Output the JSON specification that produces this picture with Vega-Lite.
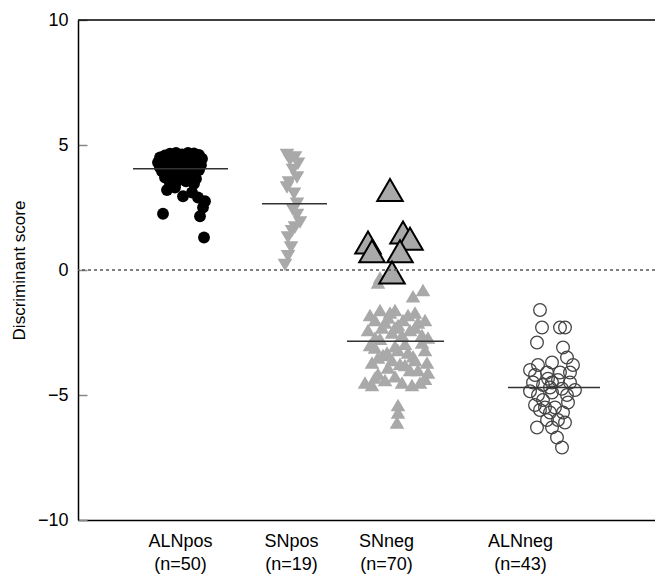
{
  "$schema": "https://vega.github.io/schema/vega-lite/v6.json",
  "width": 577,
  "height": 500,
  "autosize": {"type": "none"},
  "padding": {"left": 78, "top": 20, "right": 0, "bottom": 61},
  "config": {"view": {"stroke": null}, "font": "Liberation Sans"},
  "datasets": {
    "points": [
      {"group": "ALNpos", "x": 8.5, "score": 2.25, "kind": "plain"},
      {"group": "ALNpos", "x": 12.2, "score": 2.15, "kind": "plain"},
      {"group": "ALNpos", "x": 12.6, "score": 1.3, "kind": "plain"},
      {"group": "ALNpos", "x": 12.5, "score": 2.5, "kind": "plain"},
      {"group": "ALNpos", "x": 8.9, "score": 3.2, "kind": "plain"},
      {"group": "ALNpos", "x": 10.5, "score": 2.95, "kind": "plain"},
      {"group": "ALNpos", "x": 12.0, "score": 2.9, "kind": "plain"},
      {"group": "ALNpos", "x": 9.7, "score": 3.3, "kind": "plain"},
      {"group": "ALNpos", "x": 11.4, "score": 3.1, "kind": "plain"},
      {"group": "ALNpos", "x": 12.7, "score": 2.75, "kind": "plain"},
      {"group": "ALNpos", "x": 8.2, "score": 4.5, "kind": "plain"},
      {"group": "ALNpos", "x": 8.7, "score": 4.58, "kind": "plain"},
      {"group": "ALNpos", "x": 9.2, "score": 4.65, "kind": "plain"},
      {"group": "ALNpos", "x": 9.8, "score": 4.68, "kind": "plain"},
      {"group": "ALNpos", "x": 10.4, "score": 4.62, "kind": "plain"},
      {"group": "ALNpos", "x": 11.0, "score": 4.68, "kind": "plain"},
      {"group": "ALNpos", "x": 11.6, "score": 4.66, "kind": "plain"},
      {"group": "ALNpos", "x": 12.1, "score": 4.6, "kind": "plain"},
      {"group": "ALNpos", "x": 12.4, "score": 4.45, "kind": "plain"},
      {"group": "ALNpos", "x": 8.0, "score": 4.3, "kind": "plain"},
      {"group": "ALNpos", "x": 8.6, "score": 4.35, "kind": "plain"},
      {"group": "ALNpos", "x": 9.3, "score": 4.45, "kind": "plain"},
      {"group": "ALNpos", "x": 10.0, "score": 4.5, "kind": "plain"},
      {"group": "ALNpos", "x": 10.7, "score": 4.4, "kind": "plain"},
      {"group": "ALNpos", "x": 11.3, "score": 4.55, "kind": "plain"},
      {"group": "ALNpos", "x": 11.9, "score": 4.35, "kind": "plain"},
      {"group": "ALNpos", "x": 12.3, "score": 4.2, "kind": "plain"},
      {"group": "ALNpos", "x": 8.2, "score": 4.1, "kind": "plain"},
      {"group": "ALNpos", "x": 9.0, "score": 4.15, "kind": "plain"},
      {"group": "ALNpos", "x": 9.7, "score": 4.25, "kind": "plain"},
      {"group": "ALNpos", "x": 10.4, "score": 4.2, "kind": "plain"},
      {"group": "ALNpos", "x": 11.1, "score": 4.15, "kind": "plain"},
      {"group": "ALNpos", "x": 11.7, "score": 4.1, "kind": "plain"},
      {"group": "ALNpos", "x": 9.5, "score": 4.6, "kind": "plain"},
      {"group": "ALNpos", "x": 10.8, "score": 4.6, "kind": "plain"},
      {"group": "ALNpos", "x": 8.4, "score": 3.95, "kind": "plain"},
      {"group": "ALNpos", "x": 9.1, "score": 3.85, "kind": "plain"},
      {"group": "ALNpos", "x": 9.9, "score": 3.9, "kind": "plain"},
      {"group": "ALNpos", "x": 10.6, "score": 3.95, "kind": "plain"},
      {"group": "ALNpos", "x": 11.4, "score": 3.9, "kind": "plain"},
      {"group": "ALNpos", "x": 12.1, "score": 4.0, "kind": "plain"},
      {"group": "ALNpos", "x": 8.7, "score": 3.7, "kind": "plain"},
      {"group": "ALNpos", "x": 9.4, "score": 3.6, "kind": "plain"},
      {"group": "ALNpos", "x": 10.2, "score": 3.75, "kind": "plain"},
      {"group": "ALNpos", "x": 11.0, "score": 3.7, "kind": "plain"},
      {"group": "ALNpos", "x": 11.8, "score": 3.65, "kind": "plain"},
      {"group": "ALNpos", "x": 9.8, "score": 3.5, "kind": "plain"},
      {"group": "ALNpos", "x": 9.2, "score": 3.45, "kind": "plain"},
      {"group": "ALNpos", "x": 10.8, "score": 3.55, "kind": "plain"},
      {"group": "ALNpos", "x": 11.6, "score": 3.45, "kind": "plain"},

      {"group": "SNpos", "x": 20.9, "score": 4.6, "kind": "plain"},
      {"group": "SNpos", "x": 21.7, "score": 4.5, "kind": "plain"},
      {"group": "SNpos", "x": 21.2, "score": 4.4, "kind": "plain"},
      {"group": "SNpos", "x": 22.0, "score": 4.25, "kind": "plain"},
      {"group": "SNpos", "x": 21.5, "score": 4.0, "kind": "plain"},
      {"group": "SNpos", "x": 21.9, "score": 3.7, "kind": "plain"},
      {"group": "SNpos", "x": 21.1, "score": 3.5, "kind": "plain"},
      {"group": "SNpos", "x": 20.9, "score": 3.3, "kind": "plain"},
      {"group": "SNpos", "x": 21.6, "score": 3.05, "kind": "plain"},
      {"group": "SNpos", "x": 21.9, "score": 2.65, "kind": "plain"},
      {"group": "SNpos", "x": 21.5, "score": 2.4, "kind": "plain"},
      {"group": "SNpos", "x": 21.9, "score": 2.2, "kind": "plain"},
      {"group": "SNpos", "x": 22.2, "score": 1.9, "kind": "plain"},
      {"group": "SNpos", "x": 21.7, "score": 1.7, "kind": "plain"},
      {"group": "SNpos", "x": 21.4, "score": 1.55, "kind": "plain"},
      {"group": "SNpos", "x": 21.0, "score": 1.3, "kind": "plain"},
      {"group": "SNpos", "x": 21.3, "score": 0.9, "kind": "plain"},
      {"group": "SNpos", "x": 21.0, "score": 0.55, "kind": "plain"},
      {"group": "SNpos", "x": 20.7, "score": 0.2, "kind": "plain"},

      {"group": "SNneg", "x": 31.2, "score": 3.2, "kind": "outlined"},
      {"group": "SNneg", "x": 32.5, "score": 1.5, "kind": "outlined"},
      {"group": "SNneg", "x": 33.2, "score": 1.25, "kind": "outlined"},
      {"group": "SNneg", "x": 29.0, "score": 1.1, "kind": "outlined"},
      {"group": "SNneg", "x": 29.4, "score": 0.75, "kind": "outlined"},
      {"group": "SNneg", "x": 32.2, "score": 0.75, "kind": "outlined"},
      {"group": "SNneg", "x": 31.4, "score": -0.1, "kind": "outlined"},
      {"group": "SNneg", "x": 30.2, "score": -0.3, "kind": "plain"},
      {"group": "SNneg", "x": 30.0, "score": -0.5, "kind": "plain"},
      {"group": "SNneg", "x": 34.5, "score": -0.8, "kind": "plain"},
      {"group": "SNneg", "x": 33.5, "score": -1.05, "kind": "plain"},
      {"group": "SNneg", "x": 30.2, "score": -1.6, "kind": "plain"},
      {"group": "SNneg", "x": 31.7, "score": -1.6, "kind": "plain"},
      {"group": "SNneg", "x": 33.7, "score": -1.7, "kind": "plain"},
      {"group": "SNneg", "x": 29.7, "score": -2.0, "kind": "plain"},
      {"group": "SNneg", "x": 31.0, "score": -1.9, "kind": "plain"},
      {"group": "SNneg", "x": 32.5, "score": -2.0, "kind": "plain"},
      {"group": "SNneg", "x": 34.0, "score": -2.1, "kind": "plain"},
      {"group": "SNneg", "x": 30.4, "score": -2.3, "kind": "plain"},
      {"group": "SNneg", "x": 31.7, "score": -2.3, "kind": "plain"},
      {"group": "SNneg", "x": 33.2, "score": -2.4, "kind": "plain"},
      {"group": "SNneg", "x": 34.4, "score": -2.6, "kind": "plain"},
      {"group": "SNneg", "x": 32.4, "score": -2.6, "kind": "plain"},
      {"group": "SNneg", "x": 29.7, "score": -2.7, "kind": "plain"},
      {"group": "SNneg", "x": 31.2, "score": -1.7, "kind": "plain"},
      {"group": "SNneg", "x": 29.2, "score": -1.8, "kind": "plain"},
      {"group": "SNneg", "x": 33.0, "score": -1.8, "kind": "plain"},
      {"group": "SNneg", "x": 34.7, "score": -2.0, "kind": "plain"},
      {"group": "SNneg", "x": 30.7, "score": -2.1, "kind": "plain"},
      {"group": "SNneg", "x": 32.0, "score": -2.2, "kind": "plain"},
      {"group": "SNneg", "x": 33.7, "score": -2.3, "kind": "plain"},
      {"group": "SNneg", "x": 29.0, "score": -2.4, "kind": "plain"},
      {"group": "SNneg", "x": 31.4, "score": -2.5, "kind": "plain"},
      {"group": "SNneg", "x": 35.0, "score": -2.7, "kind": "plain"},
      {"group": "SNneg", "x": 30.2, "score": -2.75, "kind": "plain"},
      {"group": "SNneg", "x": 34.4, "score": -2.9, "kind": "plain"},
      {"group": "SNneg", "x": 29.7, "score": -3.1, "kind": "plain"},
      {"group": "SNneg", "x": 30.9, "score": -3.3, "kind": "plain"},
      {"group": "SNneg", "x": 32.0, "score": -3.2, "kind": "plain"},
      {"group": "SNneg", "x": 33.0, "score": -3.3, "kind": "plain"},
      {"group": "SNneg", "x": 33.7, "score": -3.6, "kind": "plain"},
      {"group": "SNneg", "x": 34.9, "score": -3.7, "kind": "plain"},
      {"group": "SNneg", "x": 30.0, "score": -3.5, "kind": "plain"},
      {"group": "SNneg", "x": 31.4, "score": -3.6, "kind": "plain"},
      {"group": "SNneg", "x": 32.7, "score": -3.8, "kind": "plain"},
      {"group": "SNneg", "x": 34.0, "score": -4.0, "kind": "plain"},
      {"group": "SNneg", "x": 35.0, "score": -4.1, "kind": "plain"},
      {"group": "SNneg", "x": 29.7, "score": -4.3, "kind": "plain"},
      {"group": "SNneg", "x": 30.7, "score": -4.4, "kind": "plain"},
      {"group": "SNneg", "x": 32.4, "score": -4.5, "kind": "plain"},
      {"group": "SNneg", "x": 34.2, "score": -4.5, "kind": "plain"},
      {"group": "SNneg", "x": 29.4, "score": -4.6, "kind": "plain"},
      {"group": "SNneg", "x": 32.0, "score": -5.4, "kind": "plain"},
      {"group": "SNneg", "x": 32.0, "score": -5.7, "kind": "plain"},
      {"group": "SNneg", "x": 31.9, "score": -6.1, "kind": "plain"},
      {"group": "SNneg", "x": 32.7, "score": -2.95, "kind": "plain"},
      {"group": "SNneg", "x": 29.2, "score": -3.0, "kind": "plain"},
      {"group": "SNneg", "x": 31.7, "score": -3.05, "kind": "plain"},
      {"group": "SNneg", "x": 34.7, "score": -3.2, "kind": "plain"},
      {"group": "SNneg", "x": 30.5, "score": -3.4, "kind": "plain"},
      {"group": "SNneg", "x": 33.5, "score": -3.45, "kind": "plain"},
      {"group": "SNneg", "x": 29.4, "score": -3.7, "kind": "plain"},
      {"group": "SNneg", "x": 32.2, "score": -3.75, "kind": "plain"},
      {"group": "SNneg", "x": 31.0, "score": -3.9, "kind": "plain"},
      {"group": "SNneg", "x": 33.2, "score": -4.0, "kind": "plain"},
      {"group": "SNneg", "x": 30.0, "score": -4.15, "kind": "plain"},
      {"group": "SNneg", "x": 31.7, "score": -4.25, "kind": "plain"},
      {"group": "SNneg", "x": 34.7, "score": -4.35, "kind": "plain"},
      {"group": "SNneg", "x": 28.7, "score": -4.5, "kind": "plain"},
      {"group": "SNneg", "x": 33.4, "score": -4.6, "kind": "plain"},

      {"group": "ALNneg", "x": 46.2, "score": -1.6, "kind": "plain"},
      {"group": "ALNneg", "x": 46.4, "score": -2.3, "kind": "plain"},
      {"group": "ALNneg", "x": 48.2, "score": -2.3, "kind": "plain"},
      {"group": "ALNneg", "x": 48.7, "score": -2.3, "kind": "plain"},
      {"group": "ALNneg", "x": 45.9, "score": -2.9, "kind": "plain"},
      {"group": "ALNneg", "x": 48.5, "score": -3.1, "kind": "plain"},
      {"group": "ALNneg", "x": 48.9, "score": -3.5, "kind": "plain"},
      {"group": "ALNneg", "x": 46.0, "score": -3.8, "kind": "plain"},
      {"group": "ALNneg", "x": 47.4, "score": -3.7, "kind": "plain"},
      {"group": "ALNneg", "x": 49.5, "score": -3.8, "kind": "plain"},
      {"group": "ALNneg", "x": 45.7, "score": -4.2, "kind": "plain"},
      {"group": "ALNneg", "x": 46.9, "score": -4.1, "kind": "plain"},
      {"group": "ALNneg", "x": 48.2, "score": -4.1, "kind": "plain"},
      {"group": "ALNneg", "x": 49.2, "score": -4.1, "kind": "plain"},
      {"group": "ALNneg", "x": 45.5, "score": -4.5, "kind": "plain"},
      {"group": "ALNneg", "x": 46.5, "score": -4.6, "kind": "plain"},
      {"group": "ALNneg", "x": 47.4, "score": -4.5, "kind": "plain"},
      {"group": "ALNneg", "x": 49.2, "score": -4.5, "kind": "plain"},
      {"group": "ALNneg", "x": 47.0, "score": -4.35, "kind": "plain"},
      {"group": "ALNneg", "x": 45.2, "score": -4.0, "kind": "plain"},
      {"group": "ALNneg", "x": 48.0, "score": -4.4, "kind": "plain"},
      {"group": "ALNneg", "x": 47.2, "score": -4.7, "kind": "plain"},
      {"group": "ALNneg", "x": 48.4, "score": -4.75, "kind": "plain"},
      {"group": "ALNneg", "x": 46.0, "score": -5.0, "kind": "plain"},
      {"group": "ALNneg", "x": 47.4, "score": -4.9, "kind": "plain"},
      {"group": "ALNneg", "x": 48.9, "score": -5.0, "kind": "plain"},
      {"group": "ALNneg", "x": 45.7, "score": -5.4, "kind": "plain"},
      {"group": "ALNneg", "x": 46.7, "score": -5.5, "kind": "plain"},
      {"group": "ALNneg", "x": 47.7, "score": -5.5, "kind": "plain"},
      {"group": "ALNneg", "x": 49.0, "score": -5.3, "kind": "plain"},
      {"group": "ALNneg", "x": 46.2, "score": -5.6, "kind": "plain"},
      {"group": "ALNneg", "x": 47.2, "score": -5.7, "kind": "plain"},
      {"group": "ALNneg", "x": 48.5, "score": -5.7, "kind": "plain"},
      {"group": "ALNneg", "x": 48.0, "score": -6.0, "kind": "plain"},
      {"group": "ALNneg", "x": 45.9, "score": -6.3, "kind": "plain"},
      {"group": "ALNneg", "x": 47.4, "score": -6.3, "kind": "plain"},
      {"group": "ALNneg", "x": 48.7, "score": -6.1, "kind": "plain"},
      {"group": "ALNneg", "x": 47.9, "score": -6.7, "kind": "plain"},
      {"group": "ALNneg", "x": 48.4, "score": -7.1, "kind": "plain"},
      {"group": "ALNneg", "x": 46.5, "score": -5.2, "kind": "plain"},
      {"group": "ALNneg", "x": 45.2, "score": -4.85, "kind": "plain"},
      {"group": "ALNneg", "x": 49.7, "score": -4.8, "kind": "plain"},
      {"group": "ALNneg", "x": 46.9, "score": -6.0, "kind": "plain"}
    ],
    "medians": [
      {"group": "ALNpos", "median": 4.05, "from": 5.5, "to": 15.0},
      {"group": "SNpos", "median": 2.65, "from": 18.4, "to": 24.9},
      {"group": "SNneg", "median": -2.85, "from": 26.9, "to": 36.6},
      {"group": "ALNneg", "median": -4.7, "from": 43.0, "to": 52.2}
    ]
  },
  "layer": [
    {
      "data": {"name": "points"},
      "transform": [{"filter": "datum.group === 'ALNpos'"}],
      "mark": {"type": "circle", "color": "#000000", "opacity": 1, "size": 140},
      "encoding": {
        "x": {
          "field": "x", "type": "quantitative",
          "scale": {"domain": [0, 57.7], "nice": false, "zero": false},
          "axis": {
            "title": null,
            "values": [10.2, 21.3, 30.8, 44.2],
            "ticks": false,
            "grid": false,
            "domainColor": "#000000",
            "domainWidth": 1.5,
            "labelFontSize": 18,
            "labelColor": "#000000",
            "labelPadding": 12,
            "labelLineHeight": 23,
            "labelExpr": "datum.value < 15 ? ['ALNpos', '(n=50)'] : datum.value < 25 ? ['SNpos', '(n=19)'] : datum.value < 35 ? ['SNneg', '(n=70)'] : ['ALNneg', '(n=43)']"
          }
        },
        "y": {
          "field": "score", "type": "quantitative",
          "scale": {"domain": [-10, 10], "nice": false},
          "axis": {
            "title": "Discriminant score",
            "values": [-10, -5, 0, 5, 10],
            "format": "d",
            "grid": false,
            "domainColor": "#000000",
            "domainWidth": 1.5,
            "tickColor": "#888888",
            "tickWidth": 1.5,
            "tickSize": -9,
            "labelFontSize": 18,
            "labelColor": "#000000",
            "labelPadding": 19,
            "titleFontSize": 17,
            "titleFontWeight": "normal",
            "titleColor": "#000000",
            "titlePadding": 9
          }
        }
      }
    },
    {
      "data": {"name": "points"},
      "transform": [{"filter": "datum.group === 'SNpos'"}],
      "mark": {"type": "point", "shape": "triangle-down", "filled": true, "color": "#a9a9a9", "opacity": 1, "size": 215},
      "encoding": {
        "x": {"field": "x", "type": "quantitative"},
        "y": {"field": "score", "type": "quantitative"}
      }
    },
    {
      "data": {"name": "points"},
      "transform": [{"filter": "datum.group === 'SNneg' && datum.kind === 'plain'"}],
      "mark": {"type": "point", "shape": "triangle-up", "filled": true, "color": "#a9a9a9", "opacity": 1, "size": 215},
      "encoding": {
        "x": {"field": "x", "type": "quantitative"},
        "y": {"field": "score", "type": "quantitative"}
      }
    },
    {
      "data": {"name": "points"},
      "transform": [{"filter": "datum.group === 'SNneg' && datum.kind === 'outlined'"}],
      "mark": {"type": "point", "shape": "triangle-up", "filled": true, "fill": "#a9a9a9", "stroke": "#000000", "strokeWidth": 2, "opacity": 1, "fillOpacity": 1, "size": 650},
      "encoding": {
        "x": {"field": "x", "type": "quantitative"},
        "y": {"field": "score", "type": "quantitative"}
      }
    },
    {
      "data": {"name": "points"},
      "transform": [{"filter": "datum.group === 'ALNneg'"}],
      "mark": {"type": "point", "shape": "circle", "filled": false, "color": "#444444", "strokeWidth": 1.3, "opacity": 1, "size": 160},
      "encoding": {
        "x": {"field": "x", "type": "quantitative"},
        "y": {"field": "score", "type": "quantitative"}
      }
    },
    {
      "data": {"name": "medians"},
      "mark": {"type": "rule", "color": "#333333", "strokeWidth": 1.5},
      "encoding": {
        "x": {"field": "from", "type": "quantitative"},
        "x2": {"field": "to"},
        "y": {"field": "median", "type": "quantitative"}
      }
    },
    {
      "data": {"values": [{"level": 0}]},
      "mark": {"type": "rule", "color": "#555555", "strokeWidth": 1.5, "strokeDash": [3, 3]},
      "encoding": {"y": {"field": "level", "type": "quantitative"}}
    },
    {
      "data": {"values": [{"level": 10}]},
      "mark": {"type": "rule", "color": "#000000", "strokeWidth": 1.5},
      "encoding": {"y": {"field": "level", "type": "quantitative"}}
    }
  ]
}
